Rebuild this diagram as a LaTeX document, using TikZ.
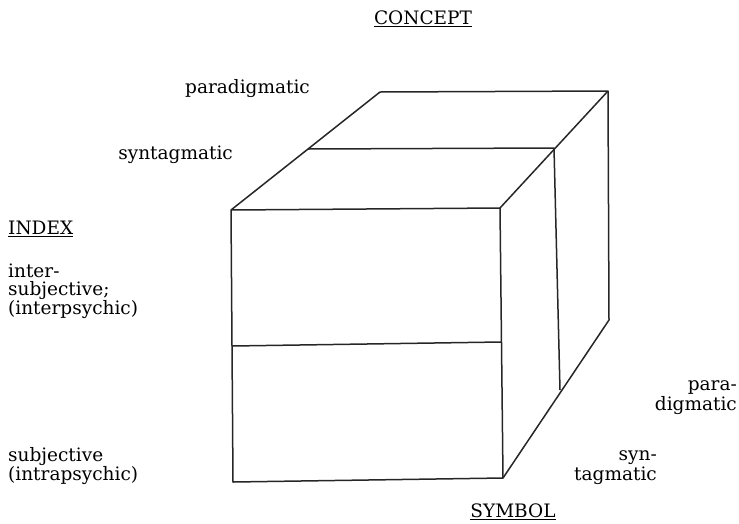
\documentclass[tikz,border=0pt]{standalone}
\usepackage{fontspec}
\setmainfont{DejaVu Serif}
\tikzset{
    edge/.style={line width=1.5pt, black!85, line join=round},
    lbl/.style={inner sep=0pt, font=\fontsize{18.5}{18.5}\selectfont},
    rlbl/.style={lbl, anchor=east, align=right, font=\fontsize{18.5}{20}\selectfont},
}
\begin{document}
\begin{tikzpicture}[x=1pt, y=-1pt]
        \useasboundingbox (0,0) rectangle (739,523);

        % Corners of the cube
        \coordinate (ftl) at (231,210);
        \coordinate (ftr) at (500,208);
        \coordinate (fbr) at (503,478);
        \coordinate (fbl) at (233,482);
        \coordinate (btl) at (380,92);
        \coordinate (btr) at (608,91);
        \coordinate (bbr) at (609,320);

        % Division points
        \coordinate (mtl) at (308,149);
        \coordinate (mtr) at (554,148);
        \coordinate (mbr) at (560,390);
        \coordinate (hl) at (232,346);
        \coordinate (hr) at (501,342);

        % Cube outline
        \draw[edge] (ftl) -- (ftr) -- (fbr) -- (fbl) -- cycle;
        \draw[edge] (ftl) -- (btl) -- (btr) -- (ftr);
        \draw[edge] (btr) -- (bbr) -- (fbr);

        % Dividing lines
        \draw[edge] (mtl) -- (mtr) -- (mbr);
        \draw[edge] (hl) -- (hr);

        % Axis names
        \node[lbl] (concept) at (423,19) {\underline{CONCEPT}};
        \node[lbl] (symbol) at (513,512) {\underline{SYMBOL}};
        \node[lbl, anchor=west] (index) at (8,229) {\underline{INDEX}};

        % Top face labels
        \node[lbl, anchor=west] (para) at (185,89) {paradigmatic};
        \node[lbl, anchor=east] (synt) at (233,155) {syntagmatic};

        % Front face labels
        \node[lbl, anchor=west, align=left] (inter) at (8,291) {inter-\\subjective;\\(interpsychic)};
        \node[lbl, anchor=west, align=left] (subj) at (8,466) {subjective\\(intrapsychic)};

        % Side face labels
        \node[rlbl] (rpara) at (737,398) {para-\\digmatic};
        \node[rlbl] (rsynt) at (657,468) {syn-\\tagmatic};
    \end{tikzpicture}
\end{document}
